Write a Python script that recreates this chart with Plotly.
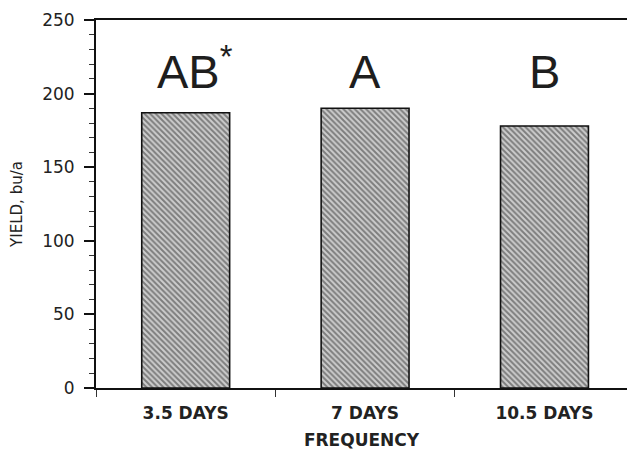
import plotly.graph_objects as go

# ---- data ----
frequency = ["3.5 DAYS", "7 DAYS", "10.5 DAYS"]
yield_bu_a = [187, 190, 178]
significance = ["AB", "A", "B"]
significance_mark = ["*", "", ""]

y_ticks = [0, 50, 100, 150, 200, 250]

fig = go.Figure()
fig.add_trace(go.Bar(
    x=frequency,
    y=yield_bu_a,
    width=0.49,
    marker=dict(
        color="#bdbdbd",
        line=dict(color="#111111", width=1.6),
        pattern=dict(shape="\\", fgcolor="#2e2e2e", bgcolor="#cdcdcd",
                     size=4, solidity=0.5),
    ),
    showlegend=False,
))

LETTER_Y = 195.5
for cat, lab, mark in zip(frequency, significance, significance_mark):
    txt = lab + (f"<sup>{mark}</sup>" if mark else "")
    fig.add_annotation(
        x=cat, y=LETTER_Y, xref="x", yref="y",
        text=txt, showarrow=False, yanchor="bottom",
        xshift=9 if mark else 0,
        font=dict(family="Liberation Sans, Arial", size=47, color="#1e1e1e"),
    )

fig.update_layout(
    width=627, height=456,
    margin=dict(l=96, r=0, t=20, b=68),
    paper_bgcolor="white", plot_bgcolor="white",
    font=dict(family="DejaVu Sans", color="#222222"),
    bargap=0.51,
)

fig.update_xaxes(
    type="category",
    range=[-0.5, 2.46],
    showline=True, linecolor="#111111", linewidth=2, mirror=True,
    ticks="outside", tickson="boundaries", ticklen=7, tickcolor="#333333", tickwidth=1,
    ticklabelstandoff=9,
    showgrid=False, zeroline=False,
    tickfont=dict(family="DejaVu Sans", size=17, weight="bold", color="#222222"),
    title=dict(text="FREQUENCY", standoff=12,
               font=dict(family="DejaVu Sans", size=17, weight="bold", color="#222222")),
)

fig.update_yaxes(
    range=[0, 250],
    tickvals=y_ticks,
    showline=True, linecolor="#111111", linewidth=2, mirror=False,
    ticks="outside", ticklen=10, tickcolor="#111111", tickwidth=1.5,
    minor=dict(dtick=10, ticks="outside", ticklen=5, tickcolor="#333333", tickwidth=1),
    ticklabelstandoff=6,
    showgrid=False, zeroline=False,
    tickfont=dict(family="DejaVu Sans", size=17, color="#222222"),
    title=dict(text="YIELD, bu/a", standoff=16,
               font=dict(family="DejaVu Sans", size=15, color="#222222")),
)

fig.write_html("out.html")
